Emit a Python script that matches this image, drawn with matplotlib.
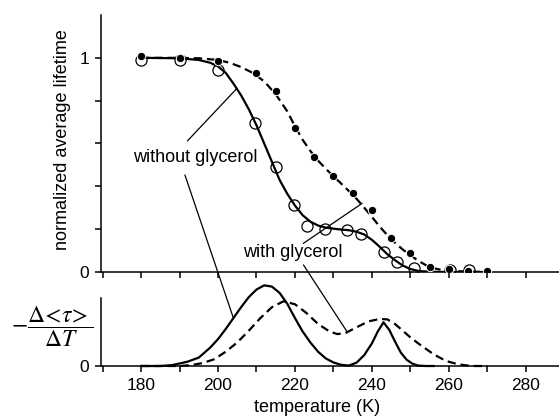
import matplotlib
matplotlib.use("Agg")
import matplotlib.pyplot as plt
from matplotlib.patches import ConnectionPatch
from matplotlib.ticker import MultipleLocator, FixedLocator

plt.rcParams['font.family'] = ['Liberation Sans', 'DejaVu Sans']
plt.rcParams['lines.scale_dashes'] = False

# measured points, normalized average lifetime
T_without = [180, 190, 200, 209.5, 215, 219.7, 223.2, 227.8, 233.6, 237.2, 243.2, 246.5, 250.8, 260.3, 265.2]
tau_without = [0.99, 0.99, 0.944, 0.698, 0.49, 0.315, 0.215, 0.203, 0.198, 0.176, 0.095, 0.048, 0.017, 0.01, 0.007]

T_with = [180, 190, 200, 210, 215, 220, 225, 230, 235, 240, 245, 250, 255, 260, 265, 270]
tau_with = [1.01, 1.0, 0.987, 0.928, 0.846, 0.671, 0.539, 0.449, 0.367, 0.29, 0.157, 0.087, 0.025, 0.012, 0.006, 0.005]

# fitted curves (top)
fitT_without = [180, 190, 195, 198, 200, 202, 204, 206, 208, 210, 212, 214, 216, 218, 220, 222, 224, 226,
                228, 231, 234, 236, 238, 240, 242, 244, 246, 248, 250, 252, 255, 260, 270]
fit_without = [1.0, 0.998, 0.99, 0.977, 0.96, 0.93, 0.88, 0.825, 0.76, 0.685, 0.6, 0.515, 0.43, 0.365,
               0.31, 0.265, 0.235, 0.217, 0.207, 0.2, 0.195, 0.188, 0.175, 0.15, 0.118, 0.083, 0.055, 0.03,
               0.014, 0.005, 0.001, 0.0, 0.0]
fitT_with = [180, 190, 195, 200, 203, 206, 209, 212, 215, 218, 220, 222, 224, 226, 228, 230, 232, 234, 236,
             238, 240, 242, 244, 246, 248, 250, 252, 254, 256, 258, 262, 266, 270]
fit_with = [1.0, 1.0, 0.998, 0.99, 0.977, 0.957, 0.93, 0.89, 0.83, 0.75, 0.68, 0.617, 0.565, 0.52, 0.482,
            0.447, 0.413, 0.378, 0.342, 0.3, 0.257, 0.212, 0.172, 0.136, 0.105, 0.078, 0.053, 0.032, 0.018, 0.01,
            0.004, 0.001, 0.0]

# -d<tau>/dT (bottom, arbitrary units)
dT_without = [180, 185, 188, 192, 195, 198, 200, 202, 204, 206, 208, 210, 212, 214, 216, 218, 220, 222, 224,
              226, 228, 230, 232, 234, 236, 238, 240, 241.5, 243, 244.5, 246, 247.5, 249, 250.5, 252, 254, 256]
d_without = [0.0, 0.0, 0.01, 0.05, 0.1, 0.22, 0.32, 0.44, 0.57, 0.7, 0.82, 0.91, 0.96, 0.945, 0.87, 0.74, 0.57,
             0.41, 0.28, 0.17, 0.09, 0.042, 0.014, 0.005, 0.04, 0.13, 0.27, 0.41, 0.52, 0.43, 0.29, 0.16, 0.075,
             0.028, 0.005, 0.0, 0.0]
dT_with = [180, 190, 193, 196, 199, 202, 205, 208, 211, 214, 217, 220, 223, 226, 229, 231, 233, 236, 239, 242,
           244, 246, 248, 250, 252, 254, 256, 258, 260, 262, 264, 266, 270]
d_with = [0.0, 0.0, 0.01, 0.035, 0.08, 0.17, 0.28, 0.42, 0.57, 0.7, 0.77, 0.735, 0.63, 0.5, 0.41, 0.38, 0.39,
          0.46, 0.53, 0.56, 0.555, 0.5, 0.42, 0.34, 0.27, 0.205, 0.14, 0.09, 0.05, 0.025, 0.01, 0.0, 0.0]

xlim = (169.6, 288.6)

fig = plt.figure(figsize=(5.59, 4.18), dpi=100)
ax1 = fig.add_axes([0.1807, 0.3493, 0.8193, 0.6148])
ax2 = fig.add_axes([0.1807, 0.1244, 0.8193, 0.201])

lw_ax = 1.1
for ax in (ax1, ax2):
    ax.spines['top'].set_visible(False)
    ax.spines['right'].set_visible(False)
    ax.spines['left'].set_linewidth(lw_ax)
    ax.spines['bottom'].set_linewidth(lw_ax)
    ax.set_xlim(*xlim)
    ax.xaxis.set_major_locator(MultipleLocator(20))
    ax.xaxis.set_minor_locator(MultipleLocator(10))
    ax.tick_params(which='both', direction='out', length=4.5, width=lw_ax, labelsize=12.5, pad=4)

# top panel
ax1.plot(fitT_without, fit_without, color='black', lw=1.6, zorder=2)
ax1.plot(fitT_with, fit_with, color='black', lw=1.6, dashes=(6, 3.5), zorder=2)
ax1.plot(T_without, tau_without, 'o', ms=8, mfc='none', mec='black', mew=0.9, zorder=3)
ax1.plot(T_with, tau_with, 'o', ms=6, mfc='black', mec='white', mew=0.7, zorder=4)
ax1.set_ylim(0, 1.2)
ax1.yaxis.set_major_locator(FixedLocator([0, 0.2, 0.4, 0.6, 0.8, 1.0]))
ax1.set_yticklabels(['0', '', '', '', '', '1'])
ax1.tick_params(axis='x', labelbottom=False)
ax1.set_ylabel('normalized average lifetime', fontsize=13, va='center')
ax1.yaxis.set_label_coords(-0.083, 0.517)

# bottom panel
ax2.plot(dT_without, d_without, color='black', lw=1.6)
ax2.plot(dT_with, d_with, color='black', lw=1.6, dashes=(6, 3.5))
ax2.set_ylim(0, 1.0)
ax2.spines['left'].set_bounds(0, 0.81)
ax2.set_yticks([0])
ax2.set_yticklabels(['0'])
for ln in ax2.get_lines():
    ln.set_clip_on(False)

fig.text(0.094, 0.218, r'$-\dfrac{\Delta\!<\!\tau\!>}{\Delta T}$', fontsize=17,
         math_fontfamily='stix', ha='center', va='center')
fig.text(0.567, 0.024, 'temperature (K)', fontsize=13, ha='center', va='center')

# annotations
ax1.text(194.0, 0.533, 'without glycerol', fontsize=13, ha='center', va='center')
ax1.text(219.5, 0.092, 'with glycerol', fontsize=13, ha='center', va='center')

ax1.plot([192.1, 204.8], [0.613, 0.855], color='black', lw=0.9)
ax1.plot([222.2, 237.4], [0.134, 0.32], color='black', lw=0.9)
for start, end in [((191.4, 0.453), (204.0, 0.57)), ((222.2, 0.033), (233.5, 0.41))]:
    con = ConnectionPatch(xyA=start, coordsA=ax1.transData, xyB=end, coordsB=ax2.transData,
                          color='black', lw=0.9)
    fig.add_artist(con)

fig.savefig('out.png', dpi=100)
